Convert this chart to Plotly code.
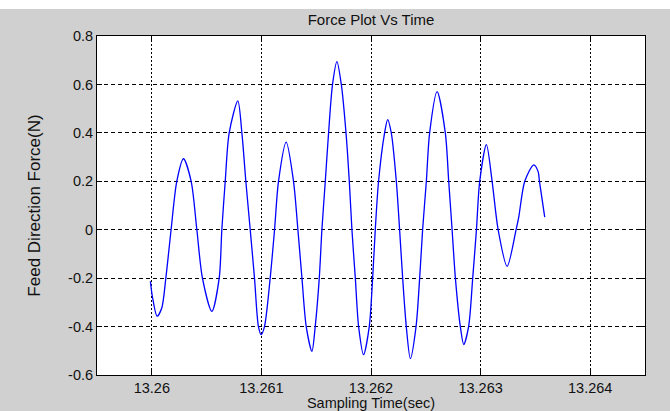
import plotly.graph_objects as go

time_s = [
    13.259987, 13.260005, 13.260048, 13.260091, 13.260128, 13.260176, 13.260228,
    13.260289, 13.260359, 13.260411, 13.260462, 13.260548, 13.260615, 13.260639,
    13.260670, 13.260706, 13.260785, 13.260822, 13.260858, 13.260898, 13.260937,
    13.260973, 13.260998, 13.261028, 13.261080, 13.261120, 13.261156, 13.261226,
    13.261293, 13.261333, 13.261370, 13.261409, 13.261461, 13.261491, 13.261528,
    13.261552, 13.261583, 13.261613, 13.261649, 13.261689, 13.261729, 13.261772,
    13.261802, 13.261826, 13.261857, 13.261887, 13.261932, 13.261984, 13.262015,
    13.262039, 13.262069, 13.262124, 13.262152, 13.262185, 13.262231, 13.262261,
    13.262289, 13.262322, 13.262359, 13.262411, 13.262444, 13.262471, 13.262505,
    13.262535, 13.262603, 13.262678, 13.262709, 13.262740, 13.262770, 13.262815,
    13.262846, 13.262891, 13.262928, 13.262962, 13.262992, 13.263053, 13.263105,
    13.263160, 13.263242, 13.263324, 13.263348, 13.263403, 13.263485, 13.263525,
    13.263537, 13.263585,
]
force_n = [
    -0.213, -0.275, -0.357, -0.323, -0.200, 0.000, 0.200,
    0.293, 0.200, 0.000, -0.200, -0.337, -0.200, 0.000,
    0.200, 0.400, 0.532, 0.400, 0.200, 0.000, -0.200,
    -0.400, -0.433, -0.400, -0.200, 0.000, 0.200, 0.362,
    0.200, 0.000, -0.200, -0.400, -0.502, -0.400, -0.200,
    0.000, 0.200, 0.400, 0.600, 0.694, 0.600, 0.400,
    0.200, 0.000, -0.200, -0.400, -0.516, -0.400, -0.200,
    0.000, 0.200, 0.400, 0.455, 0.400, 0.200, 0.000,
    -0.200, -0.400, -0.532, -0.400, -0.200, 0.000, 0.200,
    0.400, 0.570, 0.400, 0.200, 0.000, -0.200, -0.400,
    -0.474, -0.399, -0.200, 0.000, 0.200, 0.351, 0.200,
    0.000, -0.151, 0.000, 0.052, 0.200, 0.268, 0.240,
    0.200, 0.052,
]

x_tick_vals = [13.26, 13.261, 13.262, 13.263, 13.264]
x_tick_text = ["13.26", "13.261", "13.262", "13.263", "13.264"]
y_tick_vals = [-0.6, -0.4, -0.2, 0, 0.2, 0.4, 0.6, 0.8]
y_tick_text = ["-0.6", "-0.4", "-0.2", "0", "0.2", "0.4", "0.6", "0.8"]

FONT = "Liberation Sans, Arial, sans-serif"

fig = go.Figure()
fig.add_trace(go.Scatter(
    x=time_s, y=force_n, mode="lines",
    line=dict(color="#0000ff", width=1.3, shape="spline", smoothing=0.8),
    showlegend=False, hoverinfo="skip",
))

fig.update_layout(
    width=670, height=411,
    margin=dict(l=97, r=25, t=36, b=36, autoexpand=False),
    paper_bgcolor="#d0d0d0",
    plot_bgcolor="#ffffff",
    font=dict(family=FONT, size=14.5, color="#111111"),
    title=dict(text="Force Plot Vs Time", x=0.5, xref="paper", xanchor="center",
               y=1 - 20 / 411, yref="container", yanchor="middle",
               font=dict(family=FONT, size=15, color="#111111")),
    shapes=[dict(type="rect", xref="paper", yref="paper", x0=-0.3, x1=1.3,
                 y0=1 + 27 / 339.0, y1=1.2, fillcolor="#ffffff", line=dict(width=0),
                 layer="above")],
)

fig.update_xaxes(
    range=[13.2595, 13.2645], automargin=False,
    tickvals=x_tick_vals, ticktext=x_tick_text,
    showline=True, linecolor="#000000", linewidth=1, mirror="ticks",
    ticks="inside", ticklen=5, tickcolor="#000000",
    showgrid=True, gridcolor="#000000", gridwidth=1, griddash="2px,2px",
    zeroline=False,
    title=dict(text="Sampling Time(sec)", standoff=3, font=dict(family=FONT, size=14.5)),
)
fig.update_yaxes(
    range=[-0.6, 0.8], automargin=False,
    tickvals=y_tick_vals, ticktext=y_tick_text,
    showline=True, linecolor="#000000", linewidth=1, mirror="ticks",
    ticks="inside", ticklen=5, tickcolor="#000000",
    showgrid=True, gridcolor="#000000", gridwidth=1, griddash="4px,3px",
    zeroline=False,
    title=dict(text="Feed Direction Force(N)", standoff=23, font=dict(family=FONT, size=17)),
)

fig.write_html(
    "out.html",
    config={"displayModeBar": False},
    post_script="document.body.style.margin='0';document.body.style.overflow='hidden';",
)
